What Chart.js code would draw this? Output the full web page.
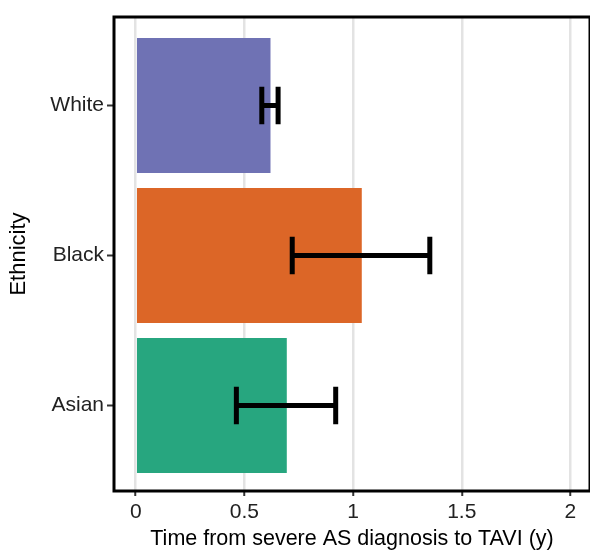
<!DOCTYPE html>
<html>
<head>
<meta charset="utf-8">
<script src="https://cdn.jsdelivr.net/npm/chart.js@4.4.0/dist/chart.umd.min.js"></script>
<style>
  html, body { margin: 0; padding: 0; background: #fff; }
  #wrap { width: 590px; height: 552px; }
</style>
</head>
<body>
<div id="wrap"><canvas id="myChart" width="590" height="552"></canvas></div>
<script>
// data
var categories = ["White", "Black", "Asian"];
var meanYears = [0.62, 1.04, 0.695];
var ciLow = [0.58, 0.72, 0.463];
var ciHigh = [0.655, 1.353, 0.92];
var xTicks = [0, 0.5, 1, 1.5, 2];
var barColors = ["#6f72b4", "#dc6627", "#27a67f"];

var points = [];
for (let i = 0; i < categories.length; i++) {
    points.push({ x: meanYears[i], y: i });
}

// error bars + panel border
var extras = {
    id: "extras",
    afterDatasetsDraw(chart) {
        var ctx = chart.ctx;
        var xs = chart.scales.x, ys = chart.scales.y;
        var half = Math.abs(ys.getPixelForValue(1) - ys.getPixelForValue(0)) * 0.125;
        ctx.save();
        ctx.strokeStyle = "#000";
        ctx.lineWidth = 5;
        ctx.lineCap = "butt";
        for (let i = 0; i < categories.length; i++) {
            var y = ys.getPixelForValue(i);
            var x1 = xs.getPixelForValue(ciLow[i]);
            var x2 = xs.getPixelForValue(ciHigh[i]);
            ctx.beginPath();
            ctx.moveTo(x1, y); ctx.lineTo(x2, y);
            ctx.moveTo(x1, y - half); ctx.lineTo(x1, y + half);
            ctx.moveTo(x2, y - half); ctx.lineTo(x2, y + half);
            ctx.stroke();
        }
        var a = chart.chartArea;
        ctx.lineWidth = 3;
        ctx.strokeRect(a.left, a.top, a.right - a.left, a.bottom - a.top);
        ctx.restore();
    }
};

new Chart("myChart", {
    type: "bar",
    data: {
        datasets: [{
            data: points,
            backgroundColor: barColors,
            borderWidth: 0,
            barPercentage: 0.9,
            categoryPercentage: 1
        }]
    },
    options: {
        indexAxis: "y",
        responsive: false,
        animation: false,
        layout: { padding: { top: 17, right: 0, left: 0, bottom: 0 } },
        plugins: { legend: { display: false }, tooltip: { enabled: false } },
        scales: {
            x: {
                type: "linear",
                min: -0.1,
                max: 2.09,
                afterBuildTicks: function (axis) {
                    axis.ticks = xTicks.map(v => ({ value: v }));
                },
                afterFit: function (axis) { axis.height = 61; },
                border: { display: false },
                grid: { color: "#e3e3e3", lineWidth: 2.5, tickColor: "#333", tickLength: 5, tickWidth: 2 },
                ticks: {
                    font: { family: "Liberation Sans", size: 21 },
                    color: "#222",
                    padding: 4,
                    maxRotation: 0,
                    callback: function (v) { return String(v); }
                },
                title: {
                    display: true,
                    text: "Time from severe AS diagnosis to TAVI (y)",
                    font: { family: "Liberation Sans", size: 21.5 },
                    color: "#000",
                    padding: { top: 0, bottom: 0 }
                }
            },
            y: {
                type: "linear",
                reverse: true,
                offset: false,
                min: -0.59,
                max: 2.57,
                afterBuildTicks: function (axis) {
                    axis.ticks = categories.map((c, i) => ({ value: i }));
                },
                afterFit: function (axis) { axis.width = 114; },
                border: { display: false },
                grid: { offset: false, drawOnChartArea: false, tickColor: "#333", tickLength: 7, tickWidth: 2 },
                ticks: {
                    font: { family: "Liberation Sans", size: 21 },
                    color: "#222",
                    padding: 3,
                    callback: function (v) { return categories[v]; }
                },
                title: {
                    display: true,
                    text: "Ethnicity",
                    font: { family: "Liberation Sans", size: 22 },
                    color: "#000",
                    padding: { top: 6, bottom: 4 }
                }
            }
        }
    },
    plugins: [extras]
});
</script>
</body>
</html>
